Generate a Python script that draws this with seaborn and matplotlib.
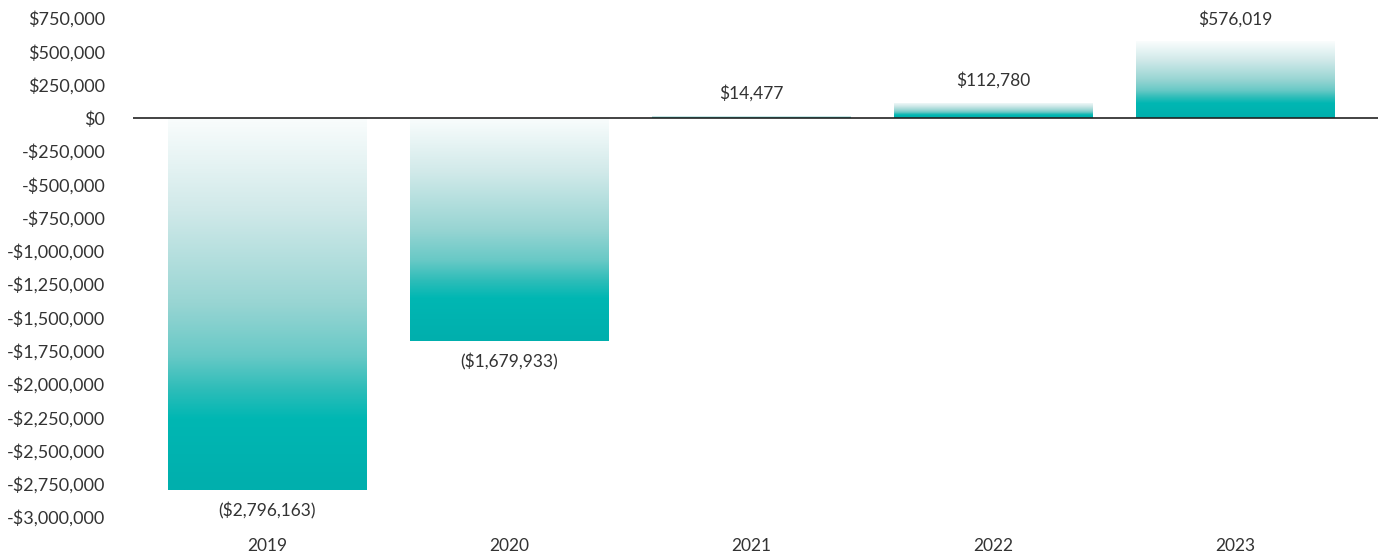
import numpy as np
import matplotlib
matplotlib.use("Agg")
import matplotlib.pyplot as plt
from matplotlib.colors import LinearSegmentedColormap
from matplotlib.ticker import FuncFormatter, MultipleLocator
import seaborn as sns

years = ["2019", "2020", "2021", "2022", "2023"]
values = [-2796163, -1679933, 14477, 112780, 576019]
value_labels = ["($2,796,163)", "($1,679,933)", "$14,477", "$112,780", "$576,019"]

sns.set_theme(style="white")
plt.rcParams["font.family"] = ["Lato", "DejaVu Sans"]
TXT = "#333333"

fig = plt.figure(figsize=(13.8, 5.57), dpi=100)
ax = fig.add_axes([0.0964, 0.0718, 0.9022, 0.8959])

sns.barplot(x=years, y=values, color="#00B5B1", width=0.82, ax=ax, saturation=1)

cmap = LinearSegmentedColormap.from_list(
    "grad", [(0.0, "#FAFDFD"), (0.25, "#D0E9E9"), (0.5, "#98D5D3"),
             (0.64, "#68C9C6"), (0.73, "#2EBDB9"), (0.81, "#00B7B3"),
             (1.0, "#00AFAD")])
grad = cmap(np.linspace(0, 1, 256))[:, None, :]

for p in list(ax.patches):
    x0, y0 = p.get_x(), p.get_y()
    w, h = p.get_width(), p.get_height()
    ylo, yhi = min(y0, y0 + h), max(y0, y0 + h)
    im = ax.imshow(grad, extent=[x0, x0 + w, ylo, yhi], origin="upper",
                   aspect="auto", zorder=p.get_zorder(), interpolation="bilinear")
    im.set_clip_path(p)
    p.set_facecolor("none")
    p.set_edgecolor("none")

for i, (v, lab) in enumerate(zip(values, value_labels)):
    off = 16 if v >= 0 else -15
    ax.annotate(lab, (i, v), xytext=(0, off), textcoords="offset points",
                ha="center", va="center", fontsize=12.5, color=TXT)

ax.axhline(0, color="#222222", lw=1.2, zorder=5)
ax.set_xlim(-0.554, 4.59)
ax.set_ylim(-3000000, 750000)
ax.yaxis.set_major_locator(MultipleLocator(250000))

def fmt(v, pos):
    v = int(round(v))
    return f"-${abs(v):,}" if v < 0 else f"${v:,}"

ax.yaxis.set_major_formatter(FuncFormatter(fmt))
for s in ax.spines.values():
    s.set_visible(False)
ax.tick_params(axis="y", length=0, pad=20, labelsize=13, labelcolor=TXT)
ax.tick_params(axis="x", length=0, pad=15, labelsize=12.5, labelcolor=TXT)
ax.set_xlabel("")
ax.set_ylabel("")
ax.grid(False)

fig.savefig("out.png", dpi=100)
